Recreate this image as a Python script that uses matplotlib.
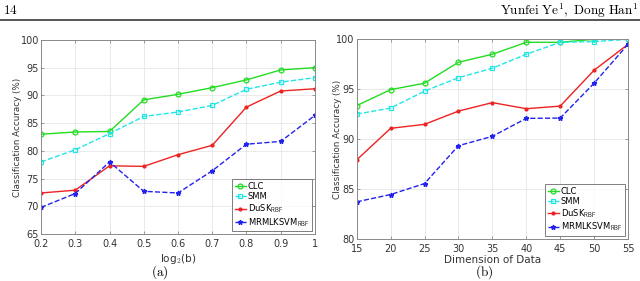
import matplotlib
matplotlib.use("Agg")
import matplotlib.pyplot as plt

plt.rcParams['mathtext.fontset'] = 'cm'
plt.rcParams['font.family'] = ['DejaVu Sans']

# ---- data (a)
xa = [0.2, 0.3, 0.4, 0.5, 0.6, 0.7, 0.8, 0.9, 1.0]
clc_a = [83.0, 83.4, 83.5, 89.2, 90.2, 91.4, 92.8, 94.6, 95.0]
smm_a = [78.0, 80.2, 83.1, 86.2, 87.0, 88.2, 91.1, 92.4, 93.2]
dusk_a = [72.4, 72.9, 77.3, 77.2, 79.3, 81.0, 87.9, 90.8, 91.2]
mrml_a = [69.8, 72.3, 78.0, 72.7, 72.4, 76.4, 81.2, 81.7, 86.4]

# ---- data (b)
xb = [15, 20, 25, 30, 35, 40, 45, 50, 55]
clc_b = [93.35, 94.95, 95.6, 97.7, 98.5, 99.7, 99.7, 100.0, 100.0]
smm_b = [92.5, 93.1, 94.8, 96.15, 97.1, 98.5, 99.7, 99.77, 100.0]
dusk_b = [87.9, 91.07, 91.47, 92.8, 93.65, 93.04, 93.3, 96.9, 99.5]
mrml_b = [83.7, 84.43, 85.53, 89.33, 90.27, 92.07, 92.1, 95.6, 99.5]

labels = ['CLC', 'SMM', r'DuSK$_{\mathsf{RBF}}$', r'MRMLKSVM$_{\mathsf{RBF}}$']
tick_a_x = [0.2, 0.3, 0.4, 0.5, 0.6, 0.7, 0.8, 0.9, 1]
tick_a_xl = ['0.2', '0.3', '0.4', '0.5', '0.6', '0.7', '0.8', '0.9', '1']
tick_a_y = [65, 70, 75, 80, 85, 90, 95, 100]
tick_b_x = [15, 20, 25, 30, 35, 40, 45, 50, 55]
tick_b_y = [80, 85, 90, 95, 100]

fig = plt.figure(figsize=(6.4, 2.81), dpi=100)

axA = fig.add_axes([0.0641, 0.1673, 0.428, 0.6904])
axB = fig.add_axes([0.5573, 0.1505, 0.424, 0.7096])

spine_c = '#8a8a8a'
txt_c = '#333333'

def style(ax, lx):
    for s in ax.spines.values():
        s.set_color(spine_c)
        s.set_linewidth(0.7)
    ax.grid(True, color='#e6e6e6', linewidth=0.6)
    ax.set_axisbelow(True)
    ax.tick_params(direction='in', length=2.5, width=0.6, colors=spine_c,
                   labelcolor=txt_c, labelsize=7, top=True, right=True)
    ax.tick_params(axis='x', pad=3.5)
    ax.tick_params(axis='y', pad=1.5)
    ax.set_ylabel('Classification Accuracy (%)', fontsize=6.3, color=txt_c)
    ax.yaxis.set_label_coords(lx, 0.5)

def draw(ax, x, c, s, d, m):
    ax.plot(x, c, color='#22dd22', lw=1.0, marker='o', ms=3.5, mfc='none', mew=0.9, label=labels[0])
    ax.plot(x, s, color='#22e6e6', lw=1.0, ls='--', marker='s', ms=3, mfc='none', mew=0.9, label=labels[1])
    ax.plot(x, d, color='#ee2222', lw=1.0, marker='.', ms=4, label=labels[2])
    ax.plot(x, m, color='#2222ee', lw=1.0, ls='--', marker='*', ms=3.5, label=labels[3])

draw(axA, xa, clc_a, smm_a, dusk_a, mrml_a)
draw(axB, xb, clc_b, smm_b, dusk_b, mrml_b)

style(axA, -0.068)
style(axB, -0.053)

axA.set_xlim(0.2, 1.0)
axA.set_ylim(65, 100)
axA.set_xticks(tick_a_x)
axA.set_xticklabels(tick_a_xl)
axA.set_yticks(tick_a_y)
axA.set_xlabel(r'log$_2$(b)', fontsize=7.5, color=txt_c, labelpad=2)

axB.set_xlim(15, 55)
axB.set_ylim(80, 100)
axB.set_xticks(tick_b_x)
axB.set_yticks(tick_b_y)
axB.set_xlabel('Dimension of Data', fontsize=7.5, color=txt_c, labelpad=1)

for ax in (axA, axB):
    leg = ax.legend(loc='lower right', fontsize=6, frameon=True, fancybox=False,
                    edgecolor='#444444', handlelength=1.4, handletextpad=0.2,
                    labelspacing=0.15, borderpad=0.3, borderaxespad=0.35)
    leg.get_frame().set_linewidth(0.6)

# header and captions
fig.text(0.005, 0.962, r'$\mathrm{14}$', fontsize=9.5, ha='left', va='center')
fig.text(0.997, 0.962, r'$\mathrm{Yunfei\ Ye^1,\ Dong\ Han^1}$', fontsize=9.5, ha='right', va='center')
fig.add_artist(plt.Line2D([0, 1], [0.93, 0.93], color='#555555', lw=1.4))
fig.text(0.25, 0.03, r'$\mathrm{(a)}$', fontsize=9.5, ha='center', va='center')
fig.text(0.756, 0.03, r'$\mathrm{(b)}$', fontsize=9.5, ha='center', va='center')

fig.savefig('out.png', dpi=100)
